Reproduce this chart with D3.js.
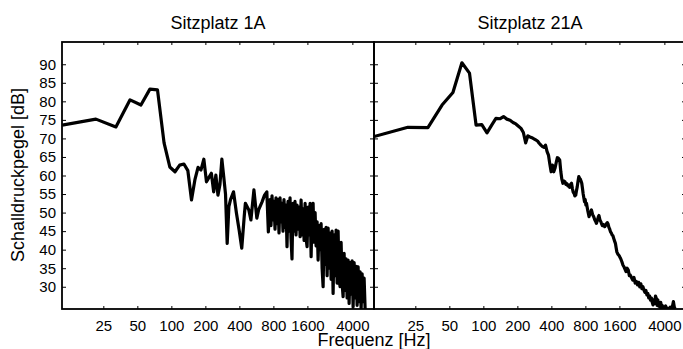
<!DOCTYPE html>
<html>
<head>
<meta charset="utf-8">
<script src="https://cdn.jsdelivr.net/npm/d3@7"></script>
<style>
  html, body { margin: 0; padding: 0; background: #fff; }
  svg { display: block; font-family: "Liberation Sans", Arial, Helvetica, sans-serif; }
</style>
</head>
<body>
<svg id="chart" width="683" height="349"></svg>
<script>
// values, [frequency Hz, level dB]
const panelTitles = ['Sitzplatz 1A', 'Sitzplatz 21A'];
const freqTicks = [25, 50, 100, 200, 400, 800, 1600, 4000];
const levelTicks = [30, 35, 40, 45, 50, 55, 60, 65, 70, 75, 80, 85, 90];
const xLabel = 'Frequenz [Hz]';
const yLabel = 'Schalldruckpegel [dB]';

const seat1A = [
  [10.8, 73.6], [21.5, 75.2], [32.3, 73.1], [43.1, 80.4], [53.8, 79.0], [64.6, 83.3], [75.4, 83.1],
  [86.2, 68.8], [96.9, 62.3], [107.7, 61.0], [118.5, 62.8], [129.2, 63.1], [140, 61.3], [150.8, 53.4],
  [161.5, 58.8], [172.3, 62.2], [183, 61.5], [193.9, 64.4], [204.6, 58.3], [215.4, 59.5], [226, 60.6],
  [237, 55.6], [247.7, 60.1], [258.5, 54.7], [269, 57.5], [280, 64.4], [290.8, 59.7], [301.6, 55],
  [312, 41.7], [323, 51.6], [334, 53.5], [355, 55.6], [377, 49.8], [398, 45.3], [420, 40.4],
  [441.6, 49], [452, 52.5], [485, 50.7], [506, 48.0], [538, 56.1], [571, 48.5], [592, 50.7],
  [635, 52.9], [668, 54.7], [700, 55.6], [722, 44.8],
  [747, 53.5], [762, 46.5], [778, 54.5], [794, 48], [810, 53], [827, 45.5], [844, 54], [861, 47],
  [879, 53.5], [897, 44.5], [916, 54], [935, 47.5], [954, 52.5], [973, 45], [993, 53.5], [1014, 46],
  [1035, 52], [1056, 40.8], [1078, 53], [1100, 45], [1123, 54], [1146, 43], [1169, 37.5], [1193, 52.5],
  [1218, 45], [1243, 53], [1269, 44], [1295, 52], [1321, 45.5], [1349, 51.5], [1379, 43.5], [1407, 53.4],
  [1436, 44], [1466, 51], [1496, 42.5], [1527, 52.5], [1558, 43], [1590, 40.8], [1623, 51.5], [1657, 44],
  [1691, 52.5], [1726, 38.1], [1761, 50.5], [1797, 52.5], [1834, 42], [1872, 50], [1911, 41], [1950, 47.5],
  [1990, 37.2], [2031, 46.5], [2073, 40], [2116, 47], [2159, 35], [2204, 30], [2249, 45.5], [2295, 36],
  [2343, 46], [2391, 33], [2440, 45.8], [2490, 35], [2541, 44.5], [2594, 32], [2647, 45], [2702, 28.2],
  [2757, 44], [2814, 33], [2872, 45.3], [2931, 31], [2992, 45], [3053, 32], [3116, 30], [3180, 42],
  [3246, 31], [3313, 27.3], [3381, 39], [3451, 29], [3522, 37.5], [3594, 27], [3668, 37.2], [3744, 25.5],
  [3821, 36.5], [3900, 28], [3980, 37], [4062, 24.5], [4146, 36.5], [4231, 27], [4318, 35.5], [4407, 25],
  [4498, 35.4], [4591, 26], [4685, 34], [4782, 24], [4880, 33.5], [4981, 26], [5083, 32.3], [5188, 24]
];

const seat21A = [
  [10.8, 70.5], [21.5, 73.0], [32.3, 72.9], [43.1, 79.0], [53.8, 82.4], [64.6, 90.4], [75.4, 87.6],
  [86.2, 73.6], [96.9, 73.7], [107.7, 71.5], [118.5, 73.6], [129.2, 75.4], [140, 75.3], [150.8, 75.9],
  [161.5, 75.2], [172.3, 74.9], [183, 74.3], [193.9, 73.9], [204.6, 73.3], [215.4, 72.7], [226, 71.6],
  [237, 68.8], [247.7, 70.7], [258.5, 70.4], [269, 70.2], [280, 69.9], [290.8, 69.6], [301.6, 69.3],
  [312, 68.7], [323, 68.2], [334, 67.8], [344.6, 67.6], [355, 68.2], [366, 66.5], [377, 65.5], [388, 63],
  [398, 61.0], [409, 62.8], [420, 61.0], [431, 62], [441.6, 63.5], [452, 64.8], [463, 64.6], [474, 64.2],
  [485, 61], [495, 59], [506, 57.9], [517, 58.5], [528, 58.3], [538, 57.6], [549, 57.8], [560, 57.2],
  [571, 57.4], [581, 56.8], [592, 57.6], [603, 57.9], [614, 56.5], [624, 55.5], [635, 55.2], [646, 54.5],
  [657, 54.7], [668, 56], [678, 57.0], [689, 58.5], [700, 59.7], [711, 59.2], [722, 59.0], [732, 58.5],
  [743, 57.9], [754, 56.5], [765, 55], [775, 54], [786, 52.9], [797, 53.5], [808, 52], [818, 52.5],
  [840, 50.5], [862, 48.9], [883, 50], [905, 50.7], [926, 49.5], [948, 48.9], [970, 48], [991, 47.5],
  [1002, 47.1], [1024, 48], [1045, 49], [1055, 49.2], [1077, 48], [1098, 47.5], [1109, 47.1], [1131, 46.5],
  [1152, 46.8], [1185, 46.2], [1206, 46.5], [1228, 47], [1249, 47.3], [1271, 46.9], [1292, 46], [1314, 45.5],
  [1335, 44.8], [1357, 44.5], [1378, 44], [1400, 43.8], [1411, 43.5], [1443, 42.5], [1475, 41.7], [1497, 40.5],
  [1519, 39.4], [1550, 38.8], [1583, 38.5], [1615, 38], [1637, 37.7], [1680, 36.8], [1723, 35.8], [1755, 35.4],
  [1788, 34.8], [1831, 34.1], [1874, 35], [1917, 34.5], [1960, 33], [1992, 33.2], [2046, 32.5], [2100, 31.8],
  [2154, 32.5], [2208, 31], [2262, 31.4], [2315, 30.5], [2369, 31.2], [2423, 30.0], [2477, 30.8], [2530, 29.5],
  [2584, 30], [2638, 29.1], [2692, 28.5], [2746, 29], [2800, 27.8], [2854, 28.2], [2908, 27], [2962, 27.5],
  [3016, 26.4], [3070, 27], [3123, 25.8], [3177, 25.1], [3231, 26.5], [3285, 25.5], [3339, 27.5], [3393, 26.9],
  [3446, 25], [3500, 26.5], [3554, 24.8], [3608, 25.5], [3662, 24.5], [3716, 25.8], [3770, 24.2], [3824, 25],
  [3877, 24.6], [3979, 24], [4100, 24.8], [4200, 24.2], [4343, 23.8], [4500, 24.5], [4650, 23.8], [4810, 26],
  [4900, 24.5], [4980, 24]
];

const svg = d3.select('#chart');
const plotTop = 42, plotH = 267, plotW = 312;
const panels = [
  { x0: 62, title: panelTitles[0], data: seat1A, labels: true },
  { x0: 374, title: panelTitles[1], data: seat21A, labels: false }
];

panels.forEach((p, i) => {
  const x = d3.scaleLog().domain([10.77, 6217]).range([0, plotW]);
  const y = d3.scaleLinear().domain([24, 96]).range([plotH, 0]);

  const g = svg.append('g').attr('transform', `translate(${p.x0},${plotTop})`);

  g.append('clipPath').attr('id', 'clip' + i)
    .append('rect').attr('width', plotW).attr('height', plotH);

  const line = d3.line().x(d => x(d[0])).y(d => y(d[1]));
  g.append('path')
    .datum(p.data)
    .attr('clip-path', `url(#clip${i})`)
    .attr('fill', 'none')
    .attr('stroke', '#000')
    .attr('stroke-width', 3.2)
    .attr('stroke-linejoin', 'round')
    .attr('d', line);

  const xb = d3.axisBottom(x).tickValues(freqTicks).tickSize(-3).tickPadding(11).tickFormat(d3.format('d'));
  const xt = d3.axisTop(x).tickValues(freqTicks).tickSize(-3).tickFormat('');
  const yl = d3.axisLeft(y).tickValues(levelTicks).tickSize(-4).tickPadding(6)
    .tickFormat(p.labels ? d3.format('d') : '');
  const yr = d3.axisRight(y).tickValues(levelTicks).tickSize(-4).tickFormat('');

  g.append('g').attr('transform', `translate(0,${plotH})`).call(xb);
  g.append('g').call(xt);
  g.append('g').call(yl);
  g.append('g').attr('transform', `translate(${plotW},0)`).call(yr);

  g.selectAll('.domain').remove();
  g.selectAll('.tick line').attr('stroke', '#000').attr('stroke-width', 1);
  g.selectAll('.tick text').attr('fill', '#000').style('font-size', '15px')
    .style('font-family', '"Liberation Sans", Arial, sans-serif');

  g.append('rect')
    .attr('width', plotW).attr('height', plotH)
    .attr('fill', 'none').attr('stroke', '#000').attr('stroke-width', 1.8);

  svg.append('text')
    .attr('x', p.x0 + plotW / 2).attr('y', 29)
    .attr('text-anchor', 'middle')
    .style('font-size', '18px')
    .text(p.title);
});

svg.append('text')
  .attr('x', 374).attr('y', 346)
  .attr('text-anchor', 'middle')
  .style('font-size', '18px')
  .text(xLabel);

svg.append('text')
  .attr('transform', 'translate(24,175) rotate(-90)')
  .attr('text-anchor', 'middle')
  .style('font-size', '18px')
  .text(yLabel);
</script>
</body>
</html>
